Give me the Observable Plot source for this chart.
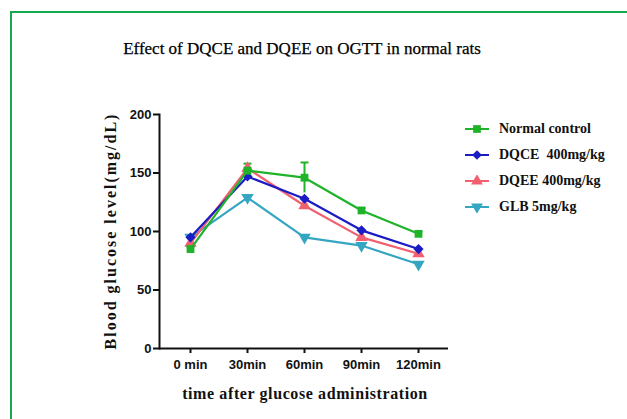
<!DOCTYPE html>
<html>
<head>
<meta charset="utf-8">
<script src="https://cdn.jsdelivr.net/npm/d3@7"></script>
<script src="https://cdn.jsdelivr.net/npm/@observablehq/plot@0.6"></script>
<style>
  html, body { margin: 0; padding: 0; background: #fff; }
  #wrap { position: relative; width: 627px; height: 419px; overflow: hidden; background: #fff; }
  #border { position: absolute; left: 10px; top: 11px; width: 700px; height: 500px; border: 2px solid #14a84f; }
  #chart { position: absolute; left: 0; top: 0; }
  .title { position: absolute; left: 302px; top: 49px; transform: translate(-50%, -50%); white-space: nowrap; font-family: "Liberation Serif", serif; font-size: 17px; color: #000; -webkit-text-stroke: 0.25px #000; }
  .ylab { position: absolute; left: 111px; top: 231px; transform: translate(-50%, -50%) rotate(-90deg); white-space: nowrap; font-family: "Liberation Serif", serif; font-weight: bold; font-size: 16px; letter-spacing: 2px; color: #111; }
  .xlab { position: absolute; left: 305px; top: 394px; transform: translate(-50%, -50%); white-space: nowrap; font-family: "Liberation Serif", serif; font-weight: bold; font-size: 16px; letter-spacing: 0.6px; color: #111; }
  #legend { position: absolute; left: 465px; top: 116px; font-family: "Liberation Serif", serif; font-weight: bold; font-size: 14px; color: #111; }
  #legend .item { display: flex; align-items: center; height: 26px; white-space: pre; }
  #legend svg { margin-right: 10px; }
</style>
</head>
<body>
<div id="wrap">
  <div id="border"></div>
  <div id="chart"></div>
  <div class="title">Effect of DQCE and DQEE on OGTT in normal rats</div>
  <div class="ylab">Blood glucose level(mg/dL)</div>
  <div class="xlab">time after glucose administration</div>
  <div id="legend"></div>
</div>
<script>
// ---- data ----
const categories = ["0 min", "30min", "60min", "90min", "120min"];
const seriesNames = ["Normal control", "DQCE  400mg/kg", "DQEE 400mg/kg", "GLB 5mg/kg"];
const normalControl = [85, 152, 146, 118, 98];
const normalControlErr = [2, 6, 13, 2, 2];
const dqce400 = [95, 147, 128, 101, 85];
const dqee400 = [90, 154, 122, 95, 81];
const glb5 = [95, 129, 95, 88, 72];
const yTicks = [0, 50, 100, 150, 200];

const colors = ["#1fb32a", "#1c1cc4", "#f0606e", "#35a6c2"];

const triangleDown = {
  draw(context, size) {
    const s3 = Math.sqrt(3);
    const y = -Math.sqrt(size / (s3 * 3));
    context.moveTo(0, -y * 2);
    context.lineTo(-s3 * y, y);
    context.lineTo(s3 * y, y);
    context.closePath();
  }
};
const capSymbol = {
  draw(context, size) {
    const w = Math.sqrt(size) / 2;
    context.moveTo(-w, 0);
    context.lineTo(w, 0);
  }
};
const symbols = ["square", "diamond2", "triangle", triangleDown];
const allValues = [normalControl, dqce400, dqee400, glb5];

const rows = [];
allValues.forEach((vals, si) => {
  vals.forEach((v, i) => rows.push({series: seriesNames[si], si, time: categories[i], value: v}));
});
const errRows = normalControl.map((v, i) => ({time: categories[i], value: v, lo: v - normalControlErr[i], hi: v + normalControlErr[i]}));

// draw order: GLB, DQEE, DQCE, Normal
const order = [3, 2, 1, 0];
const marks = [];
marks.push(Plot.ruleX(errRows, {x: "time", y1: "lo", y2: "hi", stroke: colors[0], strokeWidth: 2}));
marks.push(Plot.dot(errRows, {x: "time", y: "hi", stroke: colors[0], strokeWidth: 2, fill: "none", symbol: () => capSymbol, r: 4.5}));
for (const si of order) {
  const d = rows.filter(r => r.si === si);
  marks.push(Plot.line(d, {x: "time", y: "value", stroke: colors[si], strokeWidth: 2.2}));
  marks.push(Plot.dot(d, {x: "time", y: "value", fill: colors[si], stroke: "none", symbol: () => symbols[si], r: si === 0 ? 4.4 : 4.6}));
}

const chart = Plot.plot({
  width: 627,
  height: 419,
  marginLeft: 159,
  marginRight: 179,
  marginTop: 114,
  marginBottom: 71,
  style: {background: "transparent", fontFamily: "Liberation Sans, Arial, sans-serif", fontWeight: "bold", fontSize: "13px", color: "#111"},
  x: {type: "point", domain: categories, range: [189, 418], padding: 0, label: null},
  y: {domain: [0, 200], label: null},
  symbol: {type: "identity"},
  marks: [
    Plot.axisY({ticks: yTicks, tickSize: 6, tickPadding: 2, strokeWidth: 2, label: null, fontSize: 13}),
    Plot.axisX({tickSize: 5, tickPadding: 6, strokeWidth: 2, label: null, fontSize: 13}),
    Plot.frame({anchor: "left", strokeWidth: 2}),
    Plot.ruleY([0], {strokeWidth: 2}),
    ...marks
  ]
});
document.getElementById("chart").appendChild(chart);

// legend
const legend = d3.select("#legend");
seriesNames.forEach((name, si) => {
  const item = legend.append("div").attr("class", "item");
  const svg = item.append("svg").attr("width", 24).attr("height", 12);
  svg.append("line").attr("x1", 0).attr("x2", 24).attr("y1", 6).attr("y2", 6).attr("stroke", colors[si]).attr("stroke-width", 2);
  const sym = typeof symbols[si] === "string" ? ({square: d3.symbolSquare, diamond2: d3.symbolDiamond2, triangle: d3.symbolTriangle})[symbols[si]] : symbols[si];
  svg.append("path").attr("transform", "translate(12,6)").attr("d", d3.symbol(sym, 60)()).attr("fill", colors[si]);
  item.append("span").text(name);
});
</script>
</body>
</html>
